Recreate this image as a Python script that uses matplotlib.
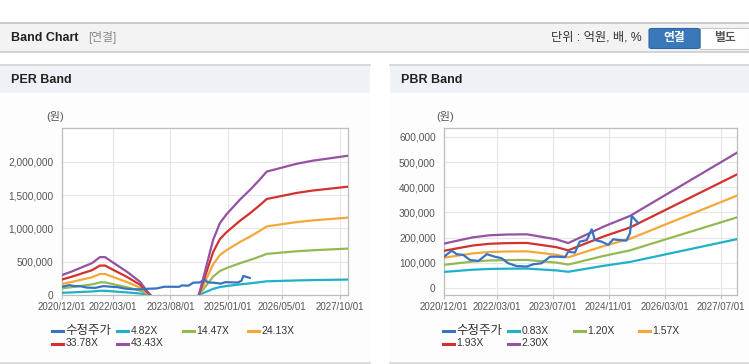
import matplotlib
matplotlib.use('Agg')
import matplotlib.pyplot as plt
from matplotlib.patches import Rectangle, FancyBboxPatch
from matplotlib.lines import Line2D
from matplotlib.ticker import FuncFormatter
import numpy as np

plt.rcParams['font.family'] = ['Liberation Sans', 'Noto Sans CJK KR', 'DejaVu Sans']

W, H = 749, 364  # figure size in px

### data (x = months after 2020/12/01) ###
price_month = [0, 2.2, 3.6, 5.5, 7.4, 9.8, 12.2, 14.5, 16.4, 18.3, 20.7, 23.6, 25.4, 27.8, 30.2, 32.6,
               34.5, 35.4, 37.3, 38.7, 40.7, 42.1, 43.0, 44.9, 46.8, 48.2, 50.1, 52.0, 53.0, 53.5, 55.4]
price = [124000, 148000, 134000, 131000, 111000, 107000, 134000, 124000, 118000, 98000, 87000, 85000,
         94000, 98000, 124000, 124000, 122000, 144000, 140000, 184000, 190000, 233000, 190000, 184000,
         171000, 193000, 190000, 188000, 217000, 286000, 257000]

nan = np.nan
per_month = [0, 2.8, 6.3, 8.8, 11.2, 12.7, 15.1, 19.1, 23.0, 26.0, 33.0,
             40.4, 44.6, 46.6, 48.6, 52.5, 55.5, 58.4, 60.4, 64.3, 69.2, 74.1, 79.0, 84.4]
per_482 = [33300, 39000, 47200, 53000, 63100, 63100, 54000, 39000, 22200, 0, nan,
           0, 92100, 120000, 135000, 159100, 175400, 192800, 205800, 211600, 218800, 224100, 228000, 232300]
per_1447 = [99800, 117200, 141800, 159200, 189600, 189600, 162100, 117200, 66600, 0, nan,
            0, 276400, 360300, 405200, 477500, 526700, 578800, 617900, 635200, 656900, 672900, 684400, 697500]
per_2413 = [166500, 195500, 236500, 265400, 316100, 316100, 270300, 195500, 111000, 0, nan,
            0, 460900, 600800, 675600, 796300, 878300, 965200, 1030400, 1059300, 1095500, 1122000, 1141300, 1163100]
per_3378 = [233100, 273600, 331000, 371600, 442500, 442500, 378300, 273600, 155400, 0, nan,
            0, 645200, 841100, 945800, 1114700, 1229600, 1351200, 1442400, 1482900, 1533600, 1570800, 1597800, 1628200]
per_4343 = [299700, 351800, 425600, 477700, 568900, 568900, 486400, 351800, 199800, 0, nan,
            0, 829500, 1081400, 1216000, 1433200, 1580900, 1737200, 1854500, 1906600, 1971700, 2019500, 2054200, 2093300]

pbr_month = [0, 4.6, 8.3, 13.0, 18.0, 23.6, 27.4, 32.0, 35.4, 45.4, 53.0, 83.5]
pbr_083 = [63500, 68600, 72500, 75400, 76500, 76900, 73600, 69600, 64200, 87700, 103200, 193800]
pbr_120 = [91800, 99100, 104900, 109100, 110600, 111100, 106400, 100700, 92900, 126800, 149200, 280200]
pbr_157 = [120100, 129700, 137200, 142700, 144800, 145400, 139300, 131700, 121500, 166000, 195200, 366600]
pbr_193 = [147600, 159400, 168700, 175400, 177900, 178700, 171200, 161900, 149400, 204000, 239900, 450700]
pbr_230 = [176000, 190000, 201000, 209100, 212100, 213000, 204000, 193000, 178000, 243100, 285900, 537000]

per_labels = ['수정주가', '4.82X', '14.47X', '24.13X', '33.78X', '43.43X']
pbr_labels = ['수정주가', '0.83X', '1.20X', '1.57X', '1.93X', '2.30X']
colors = ['#3a72c2', '#1eb1c9', '#93ba52', '#f4a83a', '#d2322d', '#9452a0']

per_tick_months = [0, 15, 32, 49, 65, 82]
per_tick_labels = ['2020/12/01', '2022/03/01', '2023/08/01', '2025/01/01', '2026/05/01', '2027/10/01']
pbr_tick_months = [0, 15, 31, 47, 63, 79]
pbr_tick_labels = ['2020/12/01', '2022/03/01', '2023/07/01', '2024/11/01', '2026/03/01', '2027/07/01']


def rect(fig, x0, y0, x1, y1, fc, ec='none'):
    fig.patches.append(Rectangle((x0/W, 1-y1/H), (x1-x0)/W, (y1-y0)/H, transform=fig.transFigure,
                                 facecolor=fc, edgecolor=ec, lw=0.8, zorder=-5))


def hline(fig, x0, x1, y, color, lw=1.0):
    fig.add_artist(Line2D([x0/W, x1/W], [1-y/H, 1-y/H], transform=fig.transFigure, color=color, lw=lw, zorder=-4))


def ftext(fig, x, y, s, **kw):
    fig.text(x/W, 1-y/H, s, va='center', **kw)


def make_band(fig, box, months, bands, tick_months, tick_labels, ylim, yticks, xlim):
    x0, y0, x1, y1 = box
    ax = fig.add_axes([x0/W, 1-y1/H, (x1-x0)/W, (y1-y0)/H], zorder=2)
    ax.set_facecolor('white')
    ax.plot(price_month, price, color=colors[0], lw=1.6, zorder=5)
    for vals, col in zip(bands, colors[1:]):
        ax.plot(months, vals, color=col, lw=1.6, zorder=4)
    ax.set_xlim(*xlim)
    ax.set_ylim(*ylim)
    ax.set_xticks(tick_months)
    ax.set_xticklabels(tick_labels)
    ax.set_yticks(yticks)
    ax.yaxis.set_major_formatter(FuncFormatter(lambda v, p: f"{v:,.0f}"))
    ax.grid(True, color='#e6e6e6', lw=0.8)
    ax.set_axisbelow(True)
    for s in ax.spines.values():
        s.set_color('#bdbdbd')
        s.set_linewidth(0.9)
    ax.tick_params(axis='x', length=3, color='#bdbdbd', labelsize=7, labelcolor='#555555', pad=2)
    ax.tick_params(axis='y', length=0, labelsize=7.3, labelcolor='#555555', pad=6)
    return ax


fig = plt.figure(figsize=(W/100, H/100), dpi=100)
fig.patch.set_facecolor('white')

# top header bar
rect(fig, 0, 22, 749, 52, '#f3f3f3')
hline(fig, 0, 749, 22.5, '#c4c4c4', 1.2)
hline(fig, 0, 749, 52, '#d2d2d2', 1.4)
ftext(fig, 11, 38, 'Band Chart', fontsize=9, fontweight='bold', color='#222222')
ftext(fig, 88, 38, '[연결]', fontsize=8.5, color='#8a8a8a')
ftext(fig, 551, 38, '단위 : 억원, 배, %', fontsize=8.8, color='#333333')
fig.patches.append(FancyBboxPatch((649/W, 1-48.5/H), 51/W, 20/H, boxstyle='round,pad=0,rounding_size=0.004',
                                  transform=fig.transFigure, facecolor='#3a78b9', edgecolor='#2e66a3', lw=0.8,
                                  zorder=-3))
rect(fig, 700, 28.5, 749, 48.5, 'white', '#c8c8c8')
ftext(fig, 674.5, 38.5, '연결', fontsize=8.5, fontweight='bold', color='white', ha='center')
ftext(fig, 725, 38.5, '별도', fontsize=8.5, fontweight='bold', color='#555555', ha='center')

# panels
for px0, px1, title in [(0, 370, 'PER Band'), (390, 749, 'PBR Band')]:
    rect(fig, px0, 64, px1, 93, '#eef1f6')
    rect(fig, px0, 93, px1, 362, '#fdfdfd')
    hline(fig, px0, px1, 64.5, '#d4d4d4', 1.2)
    hline(fig, px0, px1, 362.5, '#d4d4d4', 1.2)
    ftext(fig, px0 + 11, 80, title, fontsize=9, fontweight='bold', color='#222222')
    ftext(fig, px0 + 46, 117, '(원)', fontsize=8, color='#555555')

make_band(fig, (62, 128, 348, 295), per_month, [per_482, per_1447, per_2413, per_3378, per_4343],
          per_tick_months, per_tick_labels, (0, 2510000), [0, 500000, 1000000, 1500000, 2000000], (0, 84.4))
make_band(fig, (444, 128, 737, 295), pbr_month, [pbr_083, pbr_120, pbr_157, pbr_193, pbr_230],
          pbr_tick_months, pbr_tick_labels, (-28000, 635000), list(range(0, 600001, 100000)), (0, 83.5))

# legends drawn by hand, 4 per row
for px0, labels in [(52, per_labels), (443, pbr_labels)]:
    for i, (lab, col) in enumerate(zip(labels, colors)):
        lx = px0 + 65.3 * (i % 4)
        ly = 331 + 12.5 * (i // 4)
        hline(fig, lx, lx + 11, ly, col, 2.2)
        fs = 9 if i == 0 else 7.5
        ftext(fig, lx + 13.5, ly, lab, fontsize=fs, color='#333333')

fig.savefig('out.png', dpi=100, facecolor='white')
